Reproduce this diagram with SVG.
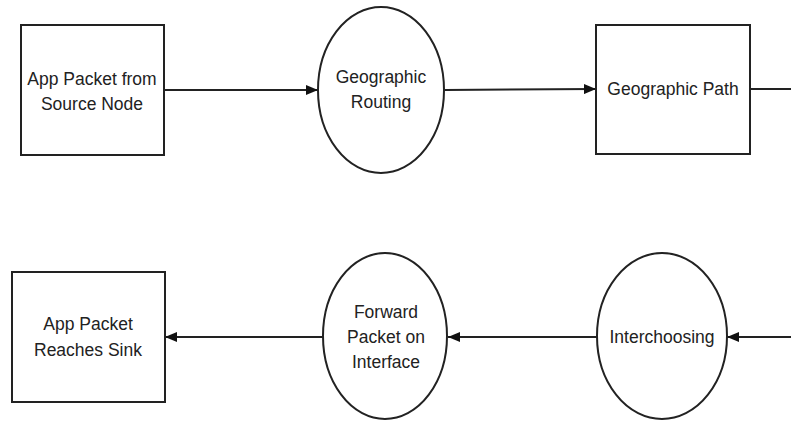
<svg xmlns="http://www.w3.org/2000/svg" width="791" height="421" viewBox="0 0 791 421">
<style>
.n{fill:#fff;stroke:#222;stroke-width:2}
.t{font-family:"Liberation Sans",Arial,sans-serif;font-size:17.5px;fill:#222;text-anchor:middle}
.c{stroke:#222;stroke-width:2;fill:none}
</style>
<defs>
<marker id="ah" viewBox="0 0 12 10" refX="12" refY="5" markerWidth="12" markerHeight="10" markerUnits="userSpaceOnUse" orient="auto">
<path d="M0,0 L12,5 L0,10 Z" fill="#111"/>
</marker>
</defs>
<rect width="791" height="421" fill="#fff"/>
<g id="connectors">
<line class="c" x1="164" y1="90" x2="318" y2="90" marker-end="url(#ah)"/>
<line class="c" x1="445" y1="90" x2="596" y2="89" marker-end="url(#ah)"/>
<line class="c" x1="750" y1="89" x2="791" y2="89"/>
<line class="c" x1="791" y1="337" x2="727" y2="337" marker-end="url(#ah)"/>
<line class="c" x1="597" y1="337" x2="448" y2="337" marker-end="url(#ah)"/>
<line class="c" x1="323" y1="337" x2="165" y2="337" marker-end="url(#ah)"/>
</g>
<g id="source">
<rect class="n" x="21" y="25" width="143" height="130"/>
<text class="t" x="92" y="85">App Packet from</text>
<text class="t" x="92" y="110">Source Node</text>
</g>
<g id="georouting">
<ellipse class="n" cx="381" cy="90" rx="63" ry="83"/>
<text class="t" x="381" y="83">Geographic</text>
<text class="t" x="381" y="108">Routing</text>
</g>
<g id="geopath">
<rect class="n" x="596" y="25" width="154" height="129"/>
<text class="t" x="673" y="95">Geographic Path</text>
</g>
<g id="interchoosing">
<ellipse class="n" cx="662" cy="336" rx="65" ry="83"/>
<text class="t" x="662" y="343">Interchoosing</text>
</g>
<g id="forward">
<ellipse class="n" cx="385" cy="336" rx="62" ry="83"/>
<text class="t" x="386" y="318">Forward</text>
<text class="t" x="386" y="343">Packet on</text>
<text class="t" x="386" y="368">Interface</text>
</g>
<g id="sink">
<rect class="n" x="12" y="272" width="153" height="130"/>
<text class="t" x="88" y="330">App Packet</text>
<text class="t" x="88" y="356">Reaches Sink</text>
</g>
</svg>
